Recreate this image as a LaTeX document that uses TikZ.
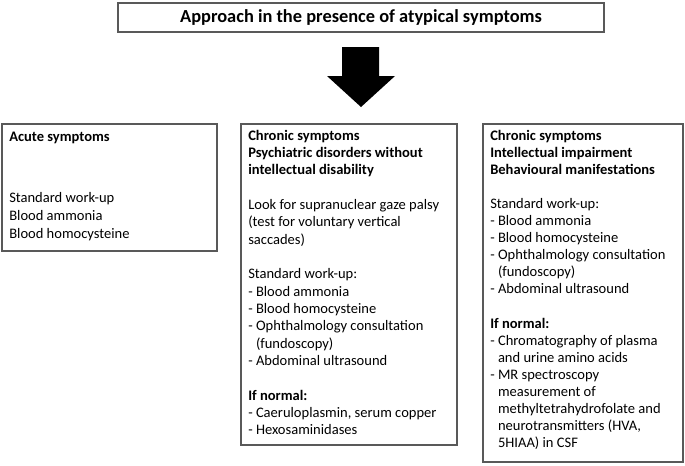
\documentclass[tikz,border=0pt]{standalone}
\usepackage{fontspec}
\setmainfont{Carlito}
\begin{document}
\begin{tikzpicture}[x=0.75pt,y=-0.75pt,
  box/.style={draw=black!65, line width=1.1pt},
  txt/.style={anchor=base west, inner sep=0pt, font=\fontsize{10.9}{13}\selectfont},
  ttl/.style={anchor=base, inner sep=0pt, font=\fontsize{13.8}{16}\selectfont\bfseries}]
\useasboundingbox (0,0) rectangle (685,465);
% title
\draw[box] (118,3) rectangle (604,32);
\node[ttl] (title) at (361,22) {Approach in the presence of atypical symptoms};
% big arrow
\fill[black] (342,47) -- (379,47) -- (379,76) -- (395,76) -- (361,107) -- (327,76) -- (342,76) -- cycle;
% boxes
\draw[box] (2,124) rectangle (217,251);
\draw[box] (241,124) rectangle (457,445);
\draw[box] (483,124) rectangle (683,462);
% left box
\node[txt] (a0) at (9,141) {\textbf{Acute symptoms}};
\node[txt] (a1) at (9,202) {Standard work-up};
\node[txt] (a2) at (9,220) {Blood ammonia};
\node[txt] (a3) at (9,238) {Blood homocysteine};
% middle box
\foreach \n/\t in {0/{\textbf{Chronic symptoms}},
  1/{\textbf{Psychiatric disorders without}},
  2/{\textbf{intellectual disability}},
  4/{Look for supranuclear gaze palsy},
  5/{(test for voluntary vertical},
  6/{saccades)},
  8/{Standard work-up:},
  9/{- Blood ammonia},
  10/{- Blood homocysteine},
  11/{- Ophthalmology consultation},
  12/{\hphantom{- }(fundoscopy)},
  13/{- Abdominal ultrasound},
  15/{\textbf{If normal:}},
  16/{- Caeruloplasmin, serum copper},
  17/{- Hexosaminidases}}
  \node[txt] (m\n) at (248,140+17.35*\n) {\t};
% right box
\foreach \n/\t in {0/{\textbf{Chronic symptoms}},
  1/{\textbf{Intellectual impairment}},
  2/{\textbf{Behavioural manifestations}},
  4/{Standard work-up:},
  5/{- Blood ammonia},
  6/{- Blood homocysteine},
  7/{- Ophthalmology consultation},
  8/{\hphantom{- }(fundoscopy)},
  9/{- Abdominal ultrasound},
  11/{\textbf{If normal:}},
  12/{- Chromatography of plasma},
  13/{\hphantom{- }and urine amino acids},
  14/{- MR spectroscopy},
  15/{\hphantom{- }measurement of},
  16/{\hphantom{- }methyltetrahydrofolate and},
  17/{\hphantom{- }neurotransmitters (HVA,},
  18/{\hphantom{- }5HIAA) in CSF}}
  \node[txt] (r\n) at (490,140+17.1*\n) {\t};
\end{tikzpicture}
\end{document}
